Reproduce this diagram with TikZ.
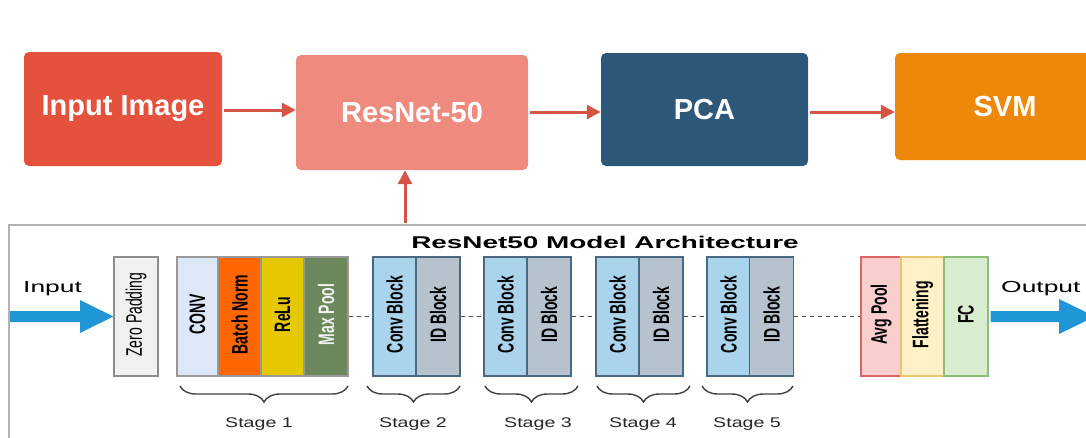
\documentclass[tikz,border=0pt]{standalone}
\usepackage{fontspec}
\setmainfont{Liberation Sans}
\usetikzlibrary{arrows.meta,decorations.pathreplacing,calc}
\definecolor{cInput}{RGB}{228,82,62}
\definecolor{cRes}{RGB}{239,139,126}
\definecolor{cPCA}{RGB}{46,88,122}
\definecolor{cSVM}{RGB}{238,136,10}
\definecolor{cArr}{RGB}{214,84,70}
\definecolor{cBlue}{RGB}{32,150,214}
\definecolor{cConv}{RGB}{220,232,248}
\definecolor{cBN}{RGB}{255,102,0}
\definecolor{cRelu}{RGB}{230,200,0}
\definecolor{cMP}{RGB}{108,136,92}
\definecolor{cCB}{RGB}{170,212,236}
\definecolor{cID}{RGB}{182,194,206}
\definecolor{cBorder}{RGB}{74,104,128}
\definecolor{cAvg}{RGB}{248,206,206}
\definecolor{cAvgB}{RGB}{220,100,100}
\definecolor{cFlat}{RGB}{255,240,200}
\definecolor{cFlatB}{RGB}{230,200,110}
\definecolor{cFC}{RGB}{216,236,208}
\definecolor{cFCB}{RGB}{140,190,120}
\newcommand{\vt}[2][\bfseries]{\rotatebox{90}{\scalebox{1}[1.6]{\fontsize{14}{16}\selectfont#1 #2}}}
\newcommand{\wt}[2]{\scalebox{#1}[1]{#2}}
\begin{document}
\begin{tikzpicture}[x=1pt,y=-1pt,
  topbox/.style={rectangle,rounded corners=5pt,inner sep=0,text=white,
    font=\fontsize{29}{32}\selectfont\bfseries},
  redarrow/.style={draw=cArr,line width=3pt,-{Triangle[length=14pt,width=14pt]}},
  blk/.style={rectangle,draw,line width=1.2pt,inner sep=0,minimum height=119pt},
  dashline/.style={draw=black!70,dashed,line width=1.2pt,dash pattern=on 4pt off 4pt},
  stbrace/.style={draw=black!75,line width=1.4pt,decorate,
    decoration={brace,mirror,amplitude=16pt,aspect=0.5}},
  stlabel/.style={anchor=base,font=\fontsize{14}{16}\selectfont,text=black!85},
  blockarrow/.style={fill=cBlue}]
\useasboundingbox (0,0) rectangle (1086,437);
% ---- top row
\node[topbox,fill=cInput,minimum width=198pt,minimum height=114pt] (inimg) at (123,109) {Input Image};
\node[topbox,fill=cRes,minimum width=232pt,minimum height=115pt] (resnet) at (412,112.5) {ResNet-50};
\node[topbox,fill=cPCA,minimum width=207pt,minimum height=113pt] (pca) at (704.5,109.5) {PCA};
\node[topbox,fill=cSVM,minimum width=220pt,minimum height=107pt] (svm) at (1005,106.5) {SVM};
\draw[redarrow,shorten <=2pt] (inimg.east |- 0,110) -- (resnet.west |- 0,110);
\draw[redarrow,shorten <=2pt] (resnet.east |- 0,112) -- (pca.west |- 0,112);
\draw[redarrow,shorten <=2pt] (pca.east |- 0,112) -- (svm.west |- 0,112);
% ---- panel
\draw[black!30,line width=1.2pt] (9,450) -- (9,225) -- (1110,225);
\coordinate (vtail) at (405,223);
\draw[redarrow] (vtail) -- (vtail |- resnet.south);
\node[anchor=base] (title) at (605,248) {\wt{1.64}{\fontsize{17}{19}\selectfont\bfseries ResNet50 Model Architecture}};
% ---- blocks
\node[blk,draw=black!45,fill=black!6,minimum width=44pt] (zp) at (136,316.5) {\vt[\mdseries]{Zero Padding}};
\node[blk,draw=black!40,fill=cConv,minimum width=41pt] (conv) at (197.5,316.5) {\vt{CONV}};
\node[blk,draw=black!40,fill=cBN,minimum width=43pt] (bn) at (239.5,316.5) {\vt{Batch Norm}};
\node[blk,draw=black!40,fill=cRelu,minimum width=43pt] (relu) at (282.5,316.5) {\vt{ReLu}};
\node[blk,draw=black!40,fill=cMP,minimum width=44pt,text=black!5] (mp) at (326,316.5) {\vt{Max Pool}};
\foreach \n/\cx/\ix in {2/394.5/438, 3/505.5/549, 4/617.5/661, 5/728.5/771.5}{
  \node[blk,draw=cBorder,fill=cCB,minimum width=43pt] (cb\n) at (\cx,316.5) {\vt{Conv Block}};
  \node[blk,draw=cBorder,fill=cID,minimum width=44pt] (id\n) at (\ix,316.5) {\vt{ID Block}};
}
\node[blk,draw=cAvgB,fill=cAvg,minimum width=40pt] (avg) at (881,316.5) {\vt{Avg Pool}};
\node[blk,draw=cFlatB,fill=cFlat,minimum width=43pt] (flat) at (922.5,316.5) {\vt{Flattening}};
\node[blk,draw=cFCB,fill=cFC,minimum width=44pt] (fc) at (966,316.5) {\vt{FC}};
% ---- dashed links
\draw[dashline] (mp.east) -- (cb2.west);
\draw[dashline] (id2.east) -- (cb3.west);
\draw[dashline] (id3.east) -- (cb4.west);
\draw[dashline] (id4.east) -- (cb5.west);
\draw[dashline] (id5.east) -- (avg.west);
% ---- input / output arrows
\fill[blockarrow] (10,311) -- (80,311) -- (80,300) -- (zp.west) -- (80,333) -- (80,322) -- (10,322) -- cycle;
\node[anchor=base west,inner sep=0] (inlab) at (23,292) {\wt{1.65}{\fontsize{16}{18}\selectfont Input}};
\coordinate (otip) at (1095,316.5);
\fill[blockarrow] ($(fc.east)+(2,-5.5)$) -- (1059,311) -- (1059,299) -- (otip) -- (1059,334) -- (1059,322) -- ($(fc.east)+(2,5.5)$) -- cycle;
\node[anchor=base west,inner sep=0] (outlab) at (1001,292) {\wt{1.65}{\fontsize{16}{18}\selectfont Output}};
% ---- braces
\draw[stbrace] (180,386) -- (348,386);
\draw[stbrace] (367,386) -- (460,386);
\draw[stbrace] (485,386) -- (578,386);
\draw[stbrace] (597,386) -- (690,386);
\draw[stbrace] (702,386) -- (793,386);
\node[stlabel] (s1) at (259,427) {\wt{1.4}{Stage 1}};
\node[stlabel] (s2) at (413,427) {\wt{1.4}{Stage 2}};
\node[stlabel] (s3) at (538,427) {\wt{1.4}{Stage 3}};
\node[stlabel] (s4) at (643,427) {\wt{1.4}{Stage 4}};
\node[stlabel] (s5) at (747,427) {\wt{1.4}{Stage 5}};
\end{tikzpicture}
\end{document}
